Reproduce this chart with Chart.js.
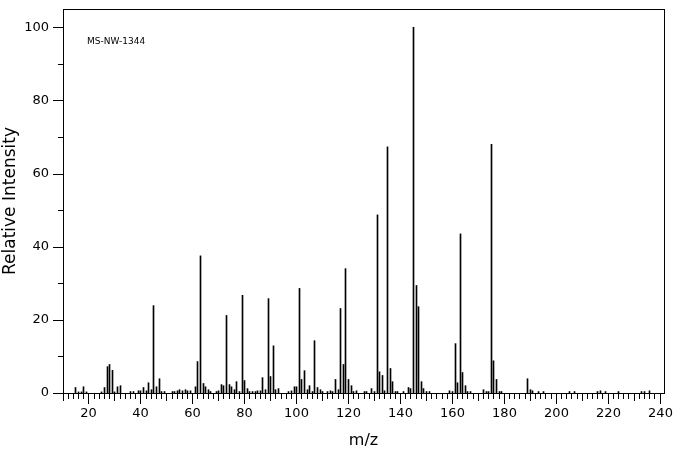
<!DOCTYPE html>
<html>
<head>
<meta charset="utf-8">
<script src="https://cdn.jsdelivr.net/npm/chart.js@4.4.1/dist/chart.umd.min.js"></script>
<style>
html,body{margin:0;padding:0;background:#fff;}
#wrap{width:676px;height:455px;position:relative;}
canvas{display:block;}
</style>
</head>
<body>
<div id="wrap"><canvas id="c" width="676" height="455"></canvas></div>
<script>
// m/z positions of the peaks
const mzValues = [
  15,16,17,18,19,25,26,27,28,29,30,31,32,36,37,39,40,41,42,43,44,45,46,47,48,49,
  52,53,54,55,56,57,58,59,61,62,63,64,65,66,67,69,70,71,72,73,74,75,76,77,78,79,
  80,81,82,83,84,85,86,87,88,89,90,91,92,93,97,98,99,100,101,102,103,104,105,106,
  107,108,109,110,112,113,114,115,116,117,118,119,120,121,122,123,126,127,129,130,
  131,132,133,134,135,136,137,138,139,141,143,144,145,146,147,148,149,150,151,159,
  160,161,162,163,164,165,166,167,172,173,174,175,176,177,178,179,189,190,191,193,
  195,205,207,216,217,219,224,233,234,236
];
// relative intensities (%) for each m/z above
const intensities = [
  1.5,0.3,0.3,1.7,0.3,0.3,1.5,7.2,7.8,6.2,0.3,1.7,2.0,0.4,0.4,0.6,0.6,1.5,0.6,2.8,0.9,23.9,1.7,3.9,0.4,0.4,
  0.4,0.4,0.6,0.9,0.6,0.9,0.6,0.6,1.7,8.6,37.5,2.6,1.7,0.9,0.4,0.4,0.6,2.3,2.0,21.2,2.3,1.7,0.9,3.1,0.4,26.7,
  3.4,1.2,0.4,0.4,0.4,0.6,0.6,4.2,0.9,25.8,4.5,12.9,0.9,1.2,0.4,0.6,1.7,1.7,28.6,3.7,6.1,0.9,2.0,0.4,
  14.3,1.5,0.9,0.4,0.4,0.6,0.4,3.7,0.9,23.1,7.8,34.0,3.7,2.0,0.4,0.6,0.4,0.4,1.2,0.4,
  48.7,5.8,4.8,0.6,67.3,6.7,3.1,0.4,0.4,0.4,1.5,1.2,100,29.4,23.6,3.1,1.2,0.4,0.4,0.6,
  0.4,13.5,2.8,43.5,5.6,2.0,0.4,0.4,0.9,0.4,0.4,68.0,8.8,3.7,0.4,0.4,3.9,0.9,0.6,0.4,
  0.4,0.4,0.4,0.4,0.6,0.4,0.4,0.4,0.4,0.6
];
const xTickLabels = [20,40,60,80,100,120,140,160,180,200,220,240];
const yTickLabels = [0,20,40,60,80,100];
const xTitle = 'm/z';
const yTitle = 'Relative Intensity';
const annotationText = 'MS-NW-1344';

// linear scale whose pixels fall on pixel centres so 1px bars stay crisp
class CrispLinearScale extends Chart.LinearScale {
  getPixelForValue(value) {
    return Math.floor(super.getPixelForValue(value)) + 0.5;
  }
}
CrispLinearScale.id = 'crispLinear';
CrispLinearScale.defaults = Chart.LinearScale.defaults;
Chart.register(CrispLinearScale);

Chart.defaults.font.family = '"DejaVu Sans", sans-serif';
Chart.defaults.color = '#000';

const framePlugin = {
  id: 'frameTicks',
  afterDatasetsDraw(chart) {
    const {ctx, chartArea: a, scales: {x, y}} = chart;
    ctx.save();
    ctx.strokeStyle = '#000';
    ctx.lineWidth = 1;
    const L = Math.round(a.left), T = Math.round(a.top), R = Math.round(a.right), B = Math.round(a.bottom);
    ctx.strokeRect(L + 0.5, T + 0.5, R - L, B - T);
    ctx.beginPath();
    for (let v = 10; v <= 240; v += 2) {
      const px = x.getPixelForValue(v);
      const len = v % 20 === 0 ? 10 : (v % 10 === 0 ? 7 : 5);
      ctx.moveTo(px, B);
      ctx.lineTo(px, B + 1 + len);
    }
    for (let v = 0; v <= 100; v += 10) {
      const py = Math.round(y.getPixelForValue(v)) + 0.5;
      const len = v % 20 === 0 ? 10 : 5;
      ctx.moveTo(L - len, py);
      ctx.lineTo(L, py);
    }
    ctx.stroke();
    ctx.fillStyle = '#000';
    ctx.font = '9px "DejaVu Sans"';
    ctx.textBaseline = 'alphabetic';
    ctx.textAlign = 'left';
    ctx.fillText(annotationText, L + 24, T + 35);
    ctx.restore();
  }
};

new Chart(document.getElementById('c'), {
  type: 'bar',
  data: {
    datasets: [{
      data: mzValues.map((m, i) => ({x: m, y: intensities[i]})),
      backgroundColor: '#000',
      borderWidth: 0,
      barThickness: 1
    }]
  },
  options: {
    responsive: false,
    animation: false,
    events: [],
    layout: {padding: {top: 9, right: 12, left: 0, bottom: 0}},
    plugins: {legend: {display: false}, tooltip: {enabled: false}},
    scales: {
      x: {
        type: 'crispLinear',
        min: 10,
        max: 241.5,
        offset: false,
        grid: {display: false, offset: false, drawTicks: true, tickLength: 13},
        border: {display: false},
        ticks: {
          stepSize: 10,
          includeBounds: false,
          autoSkip: false,
          maxRotation: 0,
          padding: 0,
          font: {size: 13},
          callback: v => xTickLabels.includes(v) ? String(v) : ''
        },
        title: {display: true, text: xTitle, font: {size: 16}, padding: {top: 0, bottom: 5}},
        afterFit: s => { s.height = 62; }
      },
      y: {
        type: 'linear',
        min: 0,
        max: 105,
        grid: {display: false, drawTicks: true, tickLength: 14},
        border: {display: false},
        ticks: {
          stepSize: 10,
          includeBounds: false,
          autoSkip: false,
          padding: 0,
          font: {size: 13},
          callback: v => yTickLabels.includes(v) ? String(v) : ''
        },
        title: {display: true, text: yTitle, font: {size: 17}, padding: {top: 0, bottom: 0}},
        afterFit: s => { s.width = 63; }
      }
    }
  },
  plugins: [framePlugin]
});
</script>
</body>
</html>
